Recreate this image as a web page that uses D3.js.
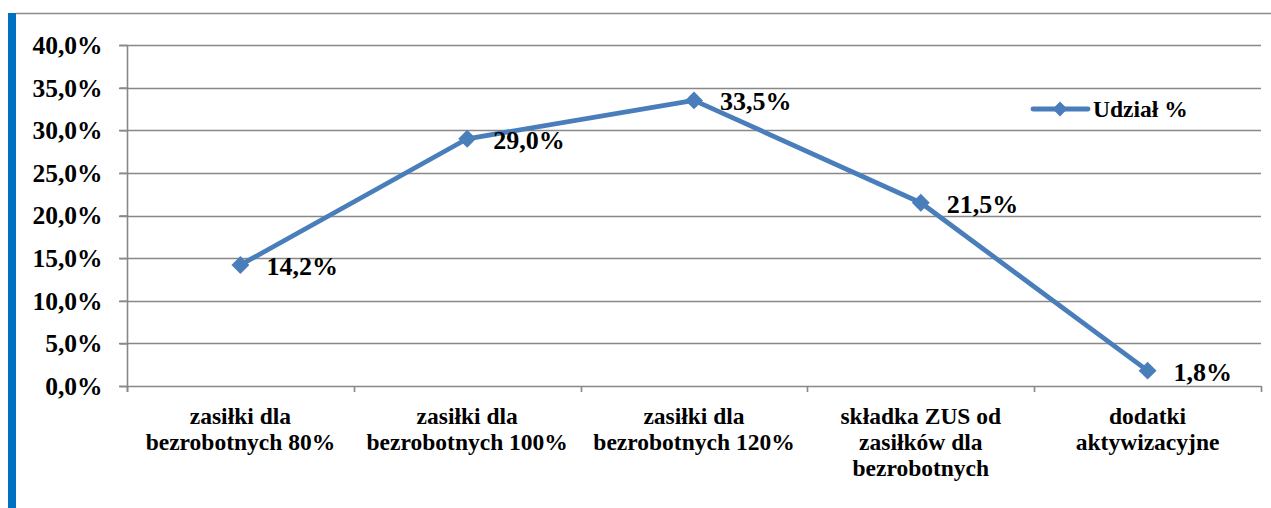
<!DOCTYPE html>
<html><head><meta charset="utf-8">
<script src="https://cdn.jsdelivr.net/npm/d3@7"></script>
<style>body{margin:0;background:#fff;}svg{display:block;font-family:"Liberation Serif","Times New Roman",serif;}</style>
</head><body>
<svg id="c" width="1271" height="508"></svg>
<script>
const categories = [
  ["zasiłki dla", "bezrobotnych 80%"],
  ["zasiłki dla", "bezrobotnych 100%"],
  ["zasiłki dla", "bezrobotnych 120%"],
  ["składka ZUS od", "zasiłków dla", "bezrobotnych"],
  ["dodatki", "aktywizacyjne"]
];
const values = [14.2, 29.0, 33.5, 21.5, 1.8];
const yTicks = [0, 5, 10, 15, 20, 25, 30, 35, 40];
const seriesName = "Udział %";

(function () {
const FONT = "Liberation Serif";
const svg = d3.select("#c");
const W = 1271, H = 508;
const lineColor = "#4A7EBB", gridColor = "#888888";
const pLeft = 127, pRight = 1261, pTop = 45, pBottom = 386;
const txt = sel => sel.attr("font-family", FONT).style("font-family", FONT).attr("font-weight", "bold").style("font-weight", "bold").attr("fill", "#000");

// frame
svg.append("rect").attr("x", 8).attr("y", 13).attr("width", 8).attr("height", H - 13).attr("fill", "#0070C0");
svg.append("line").attr("x1", 16).attr("x2", W).attr("y1", 13.5).attr("y2", 13.5).attr("stroke", "#8c8c8c").attr("stroke-width", 1.5);

const x = d3.scaleBand().domain(d3.range(categories.length)).range([pLeft, pRight]).paddingInner(0).paddingOuter(0);
const y = d3.scaleLinear().domain([0, 40]).range([pBottom, pTop]);
const fmt = v => d3.format(".1f")(v).replace(".", ",") + "%";

// grid
svg.append("g").selectAll("line").data(yTicks).join("line")
  .attr("x1", pLeft - 8).attr("x2", pRight)
  .attr("y1", d => Math.round(y(d)) + 0.5).attr("y2", d => Math.round(y(d)) + 0.5)
  .attr("stroke", gridColor).attr("stroke-width", 1.6);

// y axis
const yAxis = d3.axisLeft(y).tickValues(yTicks).tickSize(8).tickFormat(fmt);
const gy = svg.append("g").attr("transform", `translate(${pLeft + 0.5},0)`).call(yAxis);
gy.attr("font-family", FONT).attr("font-size", 25);
gy.select(".domain").attr("stroke", gridColor).attr("stroke-width", 1.6).attr("d", `M0,${pTop}V${pBottom + 6}`);
gy.selectAll(".tick line").attr("stroke", gridColor).attr("stroke-width", 1.6);
gy.selectAll(".tick text").attr("x", -25).attr("dy", "0.33em").style("font-size", "25.5px").call(txt);

// x axis ticks at category boundaries
const bounds = d3.range(categories.length + 1).map(i => pLeft + i * x.bandwidth());
svg.append("g").selectAll("line").data(bounds).join("line")
  .attr("x1", d => Math.round(d) + 0.5).attr("x2", d => Math.round(d) + 0.5)
  .attr("y1", pBottom).attr("y2", pBottom + 6)
  .attr("stroke", gridColor).attr("stroke-width", 1.6);

// x labels
const xl = svg.append("g").selectAll("text").data(categories).join("text")
  .attr("x", (d, i) => x(i) + x.bandwidth() / 2)
  .attr("y", 424)
  .attr("text-anchor", "middle").style("font-size", "23.5px").call(txt);
xl.selectAll("tspan").data(d => d).join("tspan")
  .attr("x", function() { return d3.select(this.parentNode).attr("x"); })
  .attr("dy", (d, i) => i === 0 ? 0 : 26)
  .text(d => d);

// line
const cx = i => x(i) + x.bandwidth() / 2;
svg.append("path").datum(values)
  .attr("d", d3.line().x((d, i) => cx(i)).y(d => y(d)))
  .attr("fill", "none").attr("stroke", lineColor).attr("stroke-width", 4.8).attr("stroke-linejoin", "round");

svg.append("g").selectAll("path").data(values).join("path")
  .attr("d", d3.symbol().type(d3.symbolSquare).size(160))
  .attr("transform", (d, i) => `translate(${cx(i)},${y(d)}) rotate(45)`)
  .attr("fill", lineColor);

// data labels
svg.append("g").selectAll("text").data(values).join("text")
  .attr("x", (d, i) => cx(i) + 26).attr("y", d => y(d) + 10)
  .style("font-size", "26px").call(txt).text(fmt);

// legend
svg.append("line").attr("x1", 1033).attr("x2", 1088).attr("y1", 109).attr("y2", 109)
  .attr("stroke", lineColor).attr("stroke-width", 4.8).attr("stroke-linecap", "round");
svg.append("path").attr("d", d3.symbol().type(d3.symbolSquare).size(110))
  .attr("transform", "translate(1060,109) rotate(45)").attr("fill", lineColor);
svg.append("text").attr("x", 1093).attr("y", 117).style("font-size", "23.5px").call(txt).text(seriesName);
})();
</script>
</body></html>
